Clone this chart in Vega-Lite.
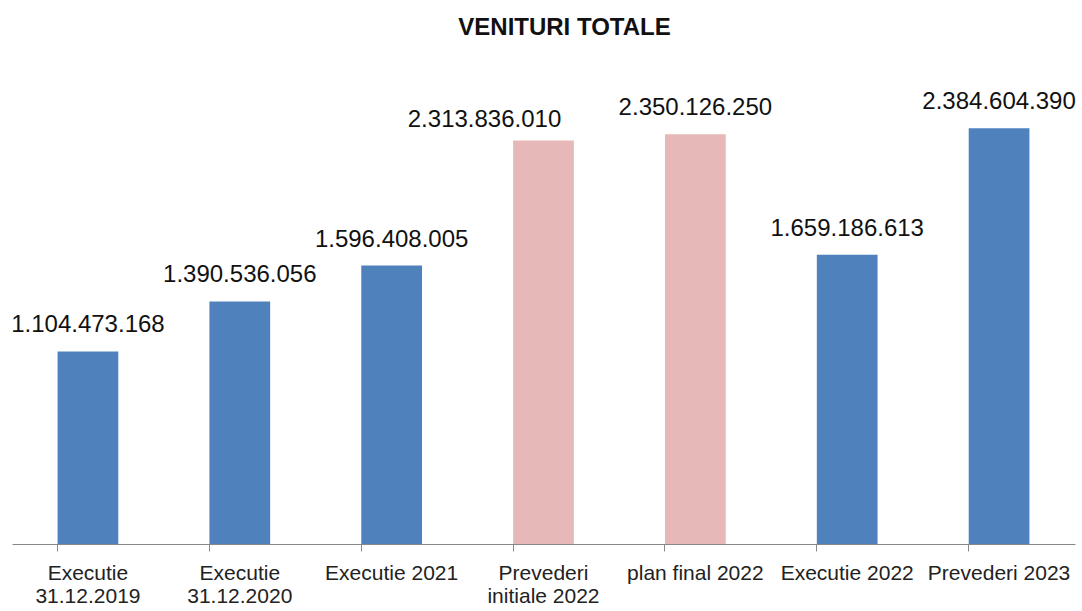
{
  "$schema": "https://vega.github.io/schema/vega-lite/v6.json",
  "width": 1063,
  "height": 436,
  "autosize": "none",
  "padding": {"left": 12, "top": 108, "right": 7, "bottom": 67},
  "background": "white",
  "title": {
    "text": "VENITURI TOTALE",
    "font": "Liberation Sans",
    "fontSize": 24,
    "fontWeight": "bold",
    "color": "#111111",
    "anchor": "middle",
    "frame": "group",
    "dx": 21,
    "baseline": "alphabetic",
    "offset": 31
  },
  "data": {
    "values": [
      {"categorie": "Executie 31.12.2019", "valoare": 1104473168, "tip": "executie"},
      {"categorie": "Executie 31.12.2020", "valoare": 1390536056, "tip": "executie"},
      {"categorie": "Executie 2021", "valoare": 1596408005, "tip": "executie"},
      {"categorie": "Prevederi initiale 2022", "valoare": 2313836010, "tip": "plan"},
      {"categorie": "plan final 2022", "valoare": 2350126250, "tip": "plan"},
      {"categorie": "Executie 2022", "valoare": 1659186613, "tip": "executie"},
      {"categorie": "Prevederi 2023", "valoare": 2384604390, "tip": "executie"}
    ]
  },
  "encoding": {
    "x": {
      "field": "categorie",
      "type": "nominal",
      "sort": null,
      "title": null,
      "scale": {"paddingInner": 0.6, "paddingOuter": 0.3},
      "axis": {
        "labelAngle": 0,
        "bandPosition": 0,
        "tickSize": 7,
        "tickColor": "#888888",
        "domainColor": "#888888",
        "labelFont": "Liberation Sans",
        "labelFontSize": 21,
        "labelColor": "#222222",
        "labelPadding": 11,
        "labelLineHeight": 23,
        "labelBaseline": "top",
        "labelExpr": "datum.label == 'Prevederi initiale 2022' ? ['Prevederi', 'initiale 2022'] : (datum.label == 'Executie 31.12.2019' || datum.label == 'Executie 31.12.2020') ? split(datum.label, ' ') : datum.label"
      }
    },
    "y": {
      "field": "valoare",
      "type": "quantitative",
      "scale": {"domain": [0, 2500000000], "nice": false},
      "axis": null
    }
  },
  "layer": [
    {
      "mark": {"type": "bar"},
      "encoding": {
        "color": {
          "field": "tip",
          "type": "nominal",
          "scale": {"domain": ["executie", "plan"], "range": ["#4F81BD", "#E6B9B8"]},
          "legend": null
        }
      }
    },
    {
      "transform": [{"filter": "datum.categorie != 'Prevederi initiale 2022'"}],
      "mark": {
        "type": "text",
        "baseline": "alphabetic",
        "dy": -19,
        "font": "Liberation Sans",
        "fontSize": 24,
        "color": "#111111",
        "clip": false
      },
      "encoding": {
        "text": {"field": "valoare", "type": "quantitative", "format": ",d", "formatType": "number"}
      }
    },
    {
      "transform": [{"filter": "datum.categorie == 'Prevederi initiale 2022'"}],
      "mark": {
        "type": "text",
        "baseline": "alphabetic",
        "dy": -13,
        "dx": -59,
        "font": "Liberation Sans",
        "fontSize": 24,
        "color": "#111111",
        "clip": false
      },
      "encoding": {
        "text": {"field": "valoare", "type": "quantitative", "format": ",d", "formatType": "number"}
      }
    }
  ],
  "config": {
    "view": {"stroke": null},
    "locale": {"number": {"decimal": ",", "thousands": ".", "grouping": [3], "currency": ["", " lei"]}}
  }
}
